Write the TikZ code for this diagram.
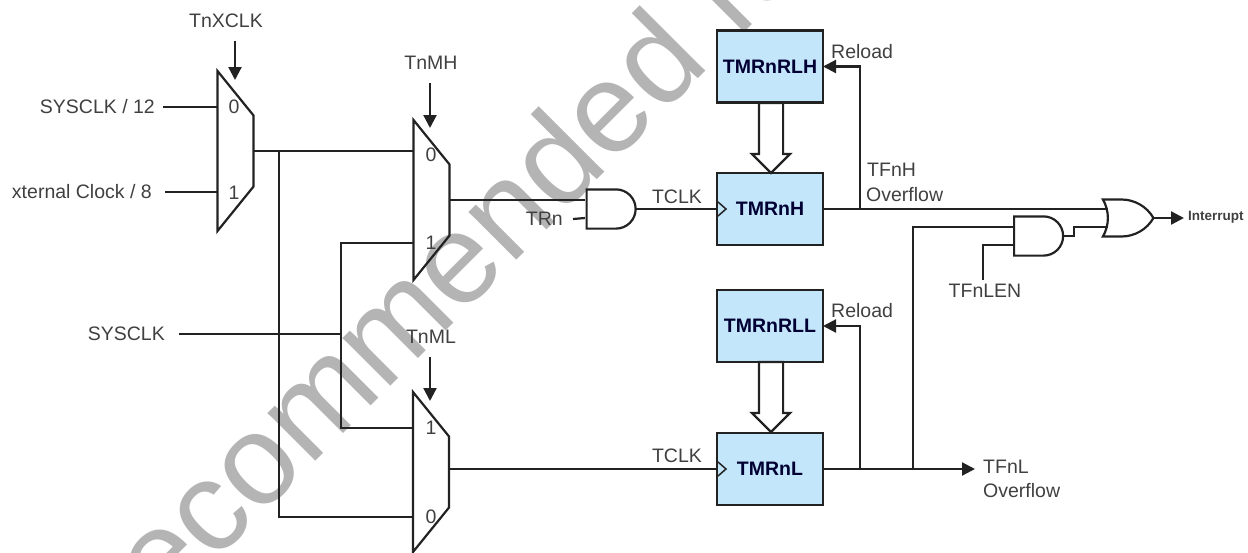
\documentclass[tikz,border=0pt]{standalone}
\usepackage{fontspec}
\setmainfont{Liberation Sans}
\usetikzlibrary{arrows.meta,shapes.geometric,shapes.arrows,shapes.gates.logic.US}
\definecolor{regblue}{HTML}{C4E6FA}
\definecolor{inkline}{HTML}{222222}
\definecolor{inktext}{HTML}{404040}
\definecolor{stampgray}{HTML}{B4B4B4}
\begin{document}
\begin{tikzpicture}[
  x=1pt, y=-1pt,
  every node/.style={font=\fontsize{19.5}{22}\selectfont, text=inktext},
  muxbox/.style={draw=inkline, line width=2.2pt, trapezium, shape border rotate=270, trapezium stretches=true, trapezium left angle=58, trapezium right angle=58, minimum width=160pt, minimum height=36pt, inner sep=1pt, outer sep=0pt},
  regbox/.style={draw=inkline, line width=2.2pt, fill=regblue, minimum width=106pt, minimum height=72pt, inner sep=0pt, outer sep=0pt, font=\fontsize{19.5}{22}\selectfont\bfseries, text=black!80!blue},
  sigtext/.style={inner ysep=0pt, inner xsep=8pt},
  toptext/.style={inner sep=0pt, minimum height=40pt},
  gateand/.style={draw=inkline, line width=2.2pt, and gate US, logic gate inputs=nn, logic gate input sep=12pt, minimum width=49pt, minimum height=36pt, inner sep=0pt, outer sep=0pt},
  gateor/.style={draw=inkline, line width=2.2pt, or gate US, logic gate inputs=nn, logic gate input sep=12.2pt, minimum width=47pt, minimum height=37pt, inner sep=0pt, outer sep=0pt},
  loadarrow/.style={draw=inkline, line width=2.2pt, fill=white, single arrow, rotate=-90, single arrow head extend=7pt, inner ysep=11pt, inner xsep=0pt, minimum height=70pt, outer sep=0pt},
  wire/.style={draw=inkline, line width=2.2pt},
  >={Triangle[length=13pt,width=13pt]}
]
\useasboundingbox (0,0) rectangle (1248,552);

% Stamp behind everything
\node[font=\fontsize{128}{128}\selectfont, text=stampgray, anchor=base west, rotate=45, inner sep=0pt] (stamp) at (163,614) {ecommended fo};

% Muxes
\node[muxbox] (mxA) at (235.5,151) {};
\node[muxbox] (mxB) at (431.5,200) {};
\node[muxbox] (mxC) at (431,472) {};
\node (mxAa) at (234,107) {0};
\node (mxAb) at (234,193) {1};
\node (mxBa) at (431,155) {0};
\node (mxBb) at (431,243) {1};
\node (mxCa) at (431,428) {1};
\node (mxCb) at (431,517) {0};

% Registers
\node[regbox] (rlh) at (770,66.5) {TMRnRLH};
\node[regbox] (th)  at (770,209)  {TMRnH};
\node[regbox] (rll) at (770,326)  {TMRnRLL};
\node[regbox] (tl)  at (770,469)  {TMRnL};
\node[loadarrow, anchor=tail] (loadh) at (771,103) {};
\node[loadarrow, anchor=tail] (loadl) at (771,362) {};

% Gates
\node[gateand] (andh) at (609.5,209) {};
\node[gateand] (ands) at (1037,236)  {};
\node[gateor]  (orq)  at (1124.5,218)  {};

% Signal names
\node[sigtext, anchor=east] (sys12) at (163,107) {SYSCLK / 12};
\node[sigtext, anchor=east, inner xsep=13pt] (extc)  at (165,192) {xternal Clock / 8};
\node[sigtext, anchor=east, inner xsep=14pt] (sys)   at (179,334) {SYSCLK};
\node[toptext] (xclk) at (226,21) {TnXCLK};
\node[toptext] (mh)   at (431,63) {TnMH};
\node[toptext] (ml)   at (431,337) {TnML};
\node[sigtext, anchor=east, inner xsep=10pt] (trn) at (573,219) {TRn};
\node (tclkh) at (677,197) {TCLK};
\node (tclkl) at (677,456) {TCLK};
\node[anchor=west, inner sep=0pt] (relh) at (831,52)  {Reload};
\node[anchor=west, inner sep=0pt] (rell) at (831,311) {Reload};
\node[anchor=west, inner sep=0pt] (ovh1) at (867,170) {TFnH};
\node[anchor=west, inner sep=0pt] (ovh2) at (866,195) {Overflow};
\node[anchor=north, inner sep=0pt] (len) at (985,284) {TFnLEN};
\node[anchor=west, inner sep=0pt] (ovl1) at (983,467) {TFnL};
\node[anchor=west, inner sep=0pt] (ovl2) at (983,491) {Overflow};
\node[anchor=west, inner sep=0pt, font=\fontsize{13.5}{16}\selectfont\bfseries] (irq) at (1188,217) {Interrupt};

% Junctions and pins
\coordinate (jclk) at (279,151);
\coordinate (jsys) at (341,334);
\coordinate (jh)   at (860,209);
\coordinate (jl)   at (860,469);
\coordinate (js)   at (913,469);
\coordinate (jlen) at (983,280);
\coordinate (tipa) at (235,80);
\coordinate (tipb) at (430,128);
\coordinate (tipc) at (430,401);
\coordinate (tipl) at (975,469);
\coordinate (tipq) at (1184,218);
\coordinate (andha) at (585,200);
\coordinate (andhb) at (585,218);
\coordinate (andsa) at (1013,227);
\coordinate (andsb) at (1013,245);
\coordinate (ora)  at (1108,209);
\coordinate (orb)  at (1108,227);

% Left side wiring
\draw[wire] (sys12.east) -- (sys12.east -| mxA.west);
\draw[wire] (extc.east) -- (extc.east -| mxA.west);
\draw[wire] (mxA.east |- jclk) -- (jclk -| mxB.west);
\draw[wire] (jclk) |- (mxCb -| mxC.west);
\draw[wire] (sys.east) -- (jsys);
\draw[wire] (mxBb -| mxB.west) -| (jsys) |- (mxCa -| mxC.west);
\draw[wire, ->] (xclk.south -| tipa) -- (tipa);
\draw[wire, ->] (mh.south -| tipb) -- (tipb);
\draw[wire, ->] (ml.south -| tipc) -- (tipc);

% Clock paths
\draw[wire] (mxB.east) -- (andha);
\draw[wire] (trn.east) -- (andhb);
\draw[wire] (andh.output) -- (th.west);
\draw[wire] (mxC.east |- tl.west) -- (tl.west);
\draw[inkline, line width=1.5pt] (th.west) ++(1,-7) -- ++(8,7) -- ++(-8,7);
\draw[inkline, line width=1.5pt] (tl.west) ++(1,-7) -- ++(8,7) -- ++(-8,7);

% Reload and overflow
\draw[wire] (th.east) -- (ora);
\draw[wire, ->] (jh) |- (rlh.east);
\draw[wire, ->] (tl.east) -- (tipl);
\draw[wire, ->] (jl) |- (rll.east);
\draw[wire] (js) |- (andsa);
\draw[wire] (jlen) |- (andsb);
\draw[wire] (ands.output) -- ++(11,0) |- (orb);
\draw[wire, ->] (orq.output) -- (tipq);
\end{tikzpicture}
\end{document}
